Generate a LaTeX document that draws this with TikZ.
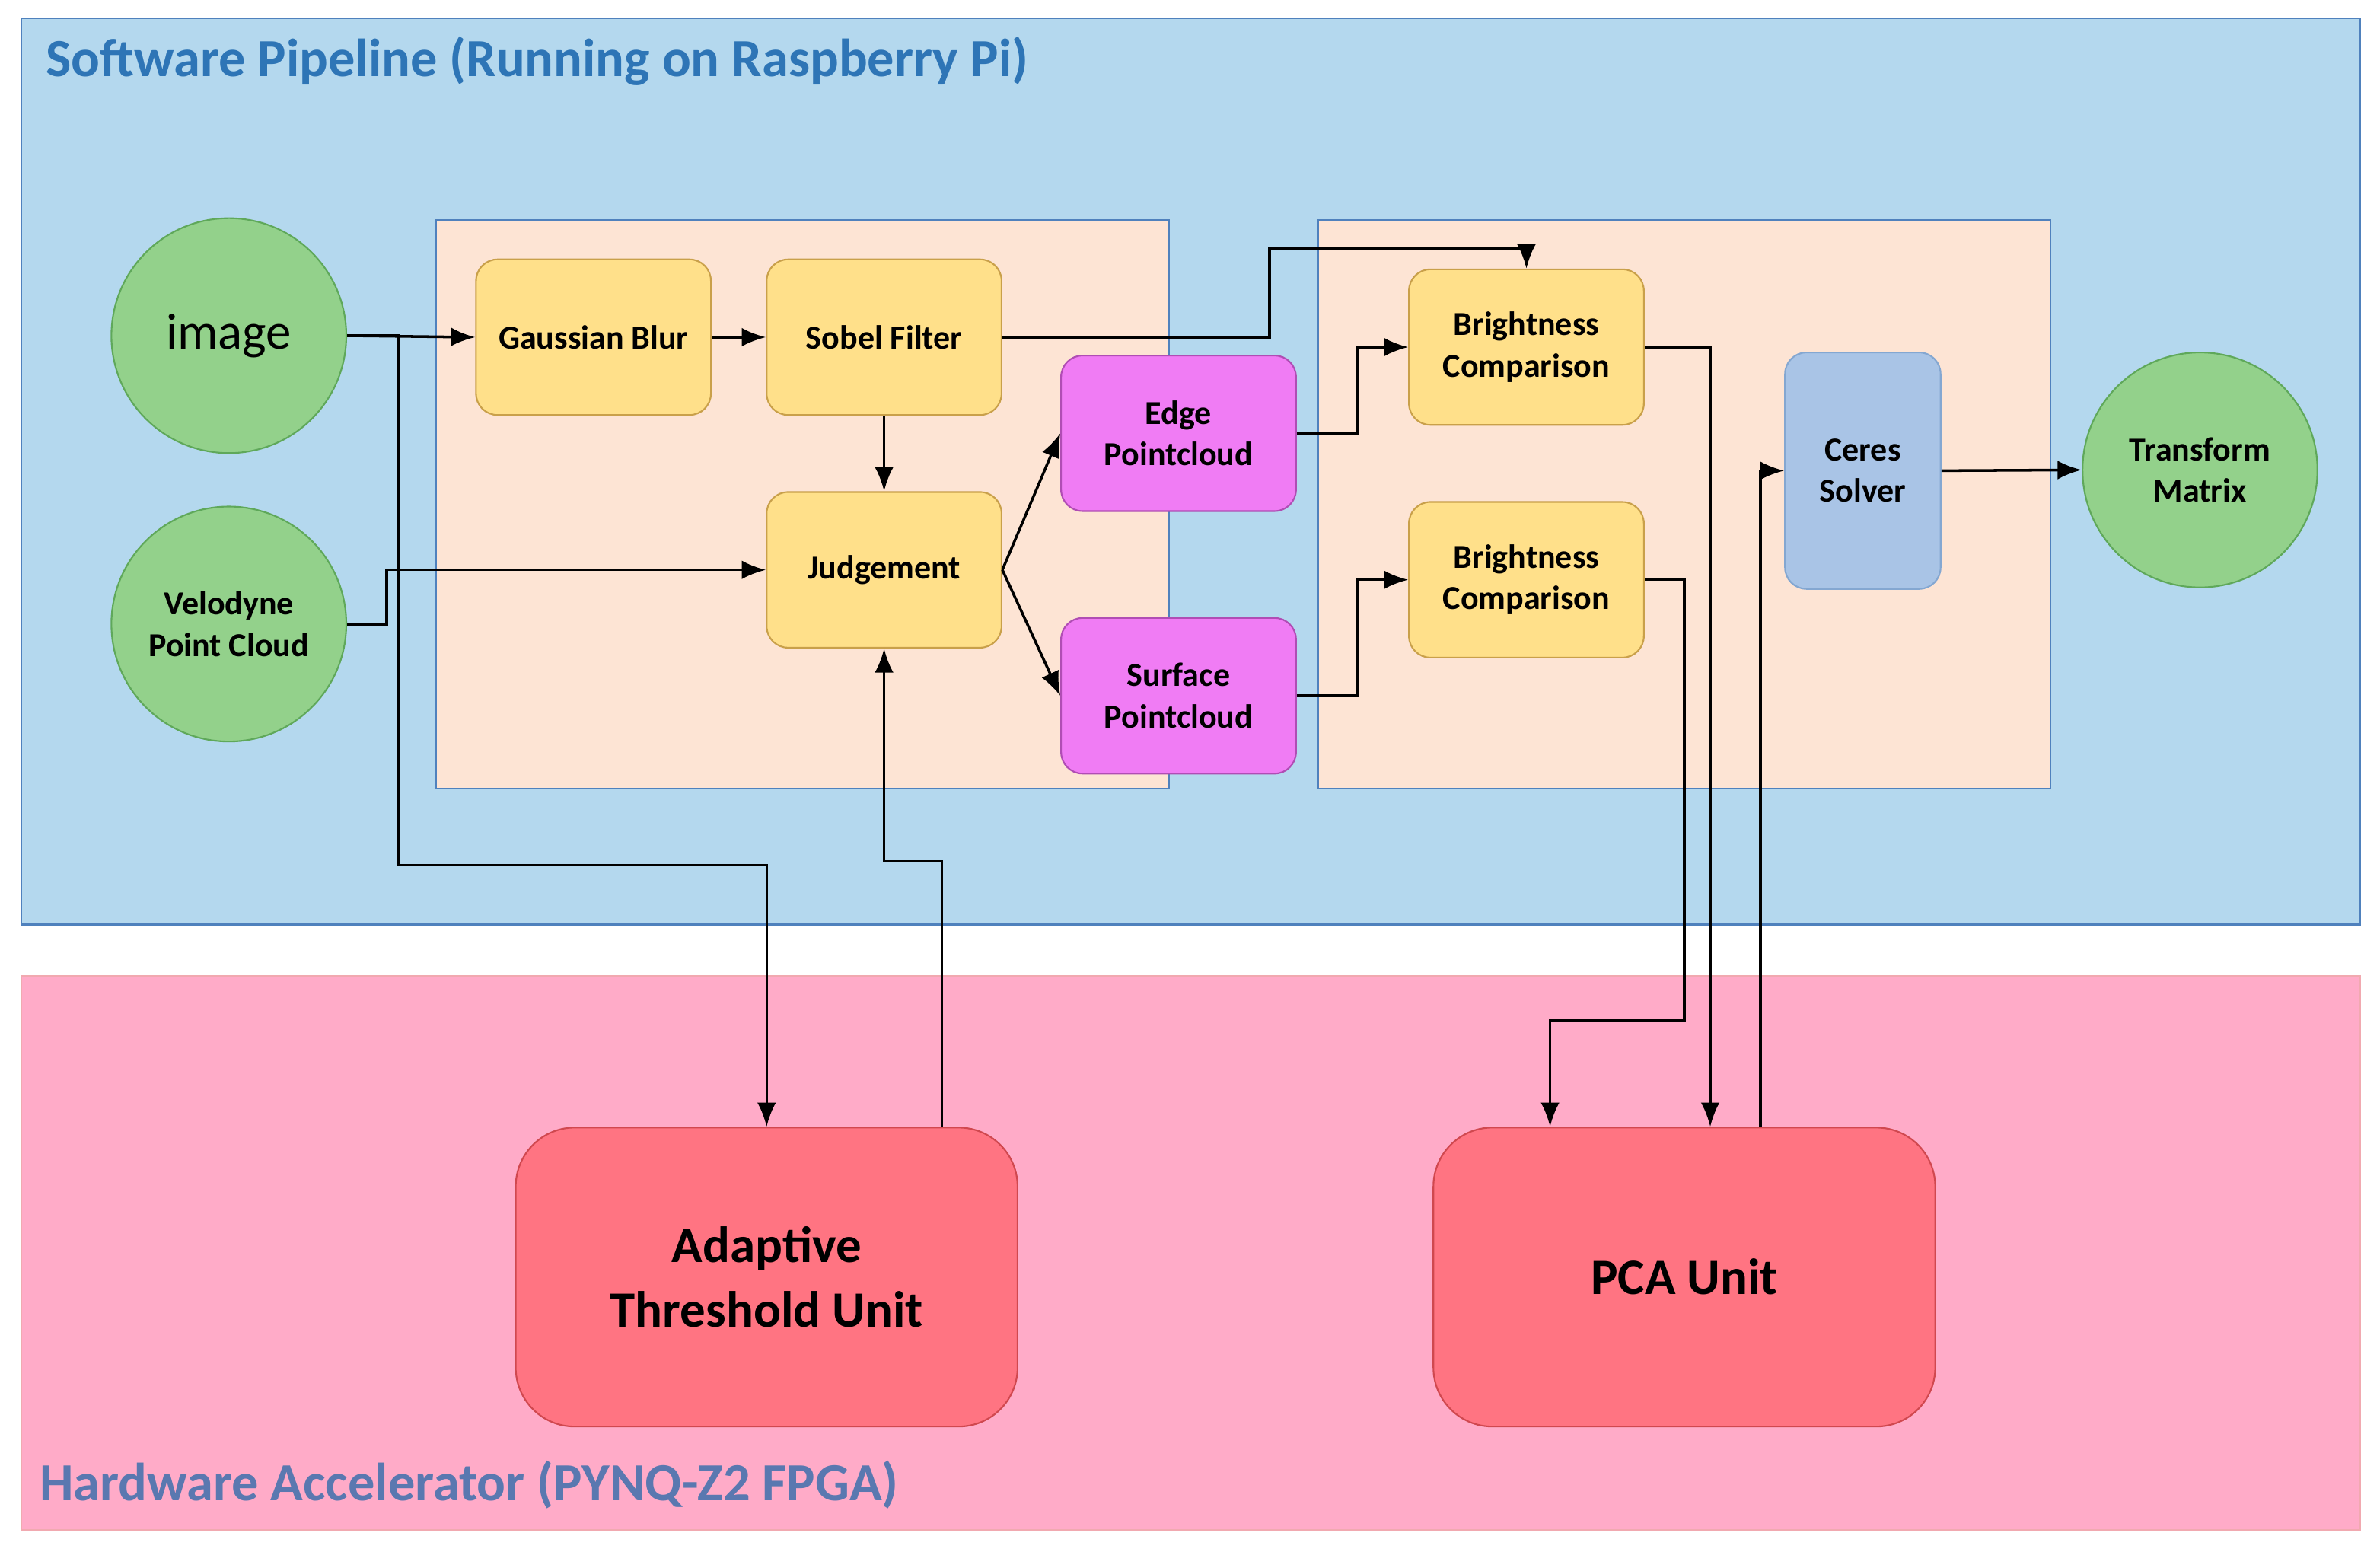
\documentclass[tikz,border=0pt]{standalone}
\usepackage{fontspec}
\setmainfont{Carlito}
\usepackage{xcolor}
\usetikzlibrary{positioning, arrows, arrows.meta}
\definecolor{swblue}{HTML}{B4D8EE}
\definecolor{swline}{HTML}{4F81BD}
\definecolor{hwpink}{HTML}{FFABC8}
\definecolor{hwline}{HTML}{E8707C}
\definecolor{peach}{HTML}{FDE4D4}
\definecolor{leaf}{HTML}{93D18B}
\definecolor{leafline}{HTML}{5FA85A}
\definecolor{sun}{HTML}{FFE08A}
\definecolor{sunline}{HTML}{C9A04A}
\definecolor{violet}{HTML}{F07CF4}
\definecolor{violetline}{HTML}{B04DB4}
\definecolor{steel}{HTML}{A9C4E6}
\definecolor{coral}{HTML}{FF7482}
\definecolor{coralline}{HTML}{D0484F}
\definecolor{titleblue}{HTML}{2E75B6}
\definecolor{titleslate}{HTML}{5A78B0}

\tikzset{
  stage/.style={draw=sunline, fill=sun, rounded corners=8pt, line width=0.6pt,
    minimum width=3.08cm, minimum height=2.04cm, align=center,
    font=\fontsize{12.5}{15.5}\selectfont\bfseries},
  cloud/.style={stage, draw=violetline, fill=violet},
  io/.style={circle, draw=leafline, fill=leaf, line width=0.6pt, minimum size=3.08cm,
    align=center, font=\fontsize{12.5}{15.5}\selectfont\bfseries},
  unit/.style={draw=coralline, fill=coral, rounded corners=22pt, line width=0.6pt,
    minimum width=6.58cm, minimum height=3.92cm, align=center,
    font=\fontsize{19}{24}\selectfont\bfseries},
  flow/.style={-{Latex[length=9pt,width=7pt]}, line width=1pt},
}

\begin{document}
\begin{tikzpicture}[x=0.02cm, y=-0.02cm]
\useasboundingbox (0,0) rectangle (1560,1017);
% panels
\draw[fill=swblue, draw=swline, line width=0.8pt] (14,12) rectangle (1547,606);
\draw[fill=hwpink, draw=hwline!60, line width=0.8pt] (14,640) rectangle (1547,1003);
\draw[fill=peach, draw=swline, line width=0.6pt] (286,144) rectangle (766,517);
\draw[fill=peach, draw=swline, line width=0.6pt] (864,144) rectangle (1344,517);
\node[anchor=west, text=titleblue, font=\fontsize{20}{24}\selectfont\bfseries] (swtitle) at (24,40) {Software Pipeline (Running on Raspberry Pi)};
\node[anchor=west, text=titleslate, font=\fontsize{20}{24}\selectfont\bfseries] (hwtitle) at (20,973) {Hardware Accelerator (PYNQ-Z2 FPGA)};

% nodes
\node[io, font=\fontsize{19}{22}\selectfont] (img) at (150,220) {image};
\node[io] (velo) at (150,409) {Velodyne\\Point Cloud};
\node[io] (tm) at (1442,308) {Transform\\Matrix};
\node[stage] (gauss) at (389,221) {Gaussian Blur};
\node[stage] (sobel) at (579.5,221) {Sobel Filter};
\node[stage] (judge) at (579.5,373.5) {Judgement};
\node[cloud] (edge) at (772.5,284) {Edge\\Pointcloud};
\node[cloud] (surf) at (772.5,456) {Surface\\Pointcloud};
\node[stage] (bc1) at (1000.5,227.5) {Brightness\\Comparison};
\node[stage] (bc2) at (1000.5,380) {Brightness\\Comparison};
\node[stage, draw=swline!70, fill=steel, minimum width=2.04cm, minimum height=3.1cm] (ceres) at (1221,308.5) {Ceres\\Solver};
\node[unit] (atu) at (502.5,837) {Adaptive\\Threshold Unit};
\node[unit] (pca) at (1104,837) {PCA Unit};

% connectors
\draw[flow] (img.east) -- (gauss.west);
\draw[flow] (gauss.east) -- (sobel.west);
\draw[flow] (sobel.south) -- (judge.north);
\draw[flow] (velo.east) -- ++(26,0) |- (judge.west);
\draw[flow] (img.east) -- ++(34,0) -- ++(0,347) -| (atu.north);
\draw[flow] ([xshift=2.3cm]atu.north) -- ++(0,-174) -| (judge.south);
\draw[flow] (judge.east) -- (edge.west);
\draw[flow] (judge.east) -- (surf.west);
\draw[flow] (sobel.east) -- ++(175,0) -- ++(0,-58) -| (bc1.north);
\draw[flow] (edge.east) -- ++(40,0) |- (bc1.west);
\draw[flow] (surf.east) -- ++(40,0) |- (bc2.west);
\draw[flow] (bc1.east) -| ([xshift=0.34cm]pca.north);
\draw[flow] (bc2.east) -- ++(26,0) -- ++(0,289) -| ([xshift=-1.76cm]pca.north);
\draw[flow] ([xshift=1cm]pca.north) |- (ceres.west);
\draw[flow] (ceres.east) -- (tm.west);
\end{tikzpicture}
\end{document}
